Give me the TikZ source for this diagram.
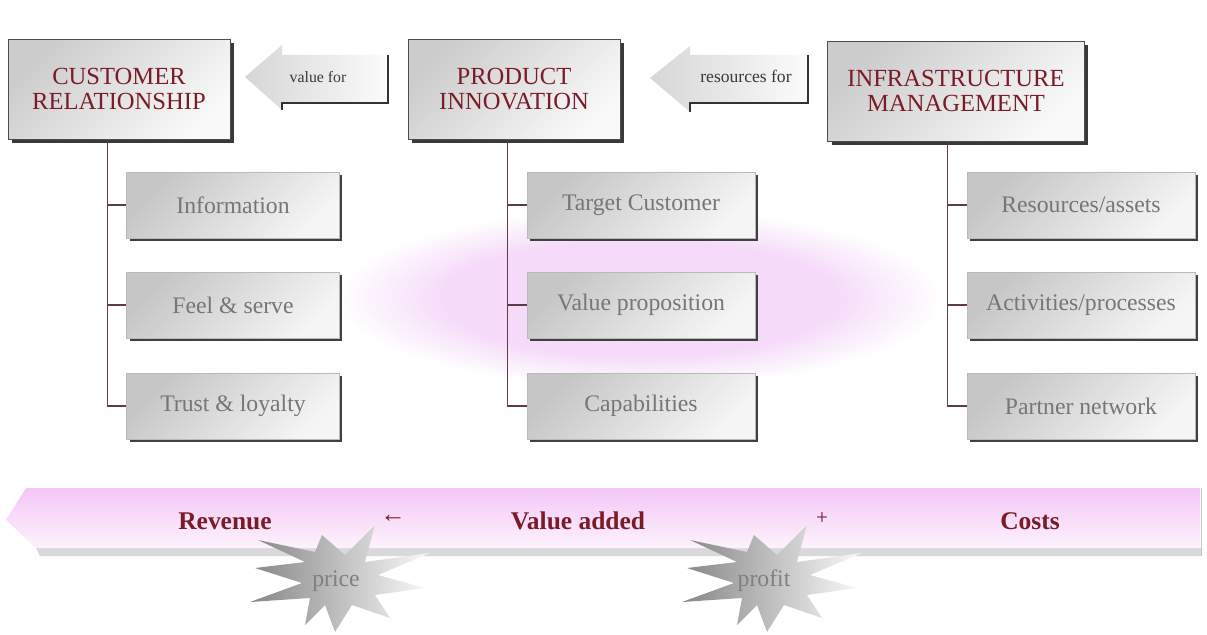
\documentclass[tikz,border=0pt]{standalone}
\usepackage{fontspec}
\setmainfont{Liberation Serif}
\usetikzlibrary{shadows}
\definecolor{headred}{RGB}{122,28,40}
\definecolor{treeline}{RGB}{95,60,65}
\definecolor{subtext}{RGB}{118,118,118}
\definecolor{bandpink}{RGB}{244,198,246}
\definecolor{ovalpink}{RGB}{245,218,249}
\pgfdeclareradialshading{ovalshade}{\pgfpoint{0bp}{0bp}}{color(0bp)=(ovalpink); color(16bp)=(ovalpink); color(25bp)=(white); color(50bp)=(white)}
% one jagged burst, drawn round (0,0)
\def\burst{(-85,-12) -- (-35,-18) -- (-82,-40) -- (-25,-28) -- (-18,-45) -- (5,-25) -- (35,-55) -- (25,-18) -- (90,-27) -- (38,-5) -- (85,8) -- (35,15) -- (50,38) -- (12,25) -- (-5,52) -- (-15,25) -- (-35,45) -- (-30,18) -- (-90,22) -- (-38,3) -- cycle}
\begin{document}
\begin{tikzpicture}[x=0.02cm,y=-0.02cm]
    \tikzstyle{head}=[draw=gray!60!black,top color=gray!40,bottom color=gray!5,shading angle=45,
      drop shadow={shadow xshift=0.8mm,shadow yshift=-0.8mm,fill=gray!45!black,opacity=1},
      align=center,text=headred,font=\fontsize{14}{14.5}\selectfont,minimum height=20mm,inner sep=0pt]
    \tikzstyle{item}=[draw=gray!55,top color=gray!45,bottom color=gray!8,shading angle=45,
      drop shadow={shadow xshift=0.6mm,shadow yshift=-0.6mm,fill=gray!50!black,opacity=1},
      text=subtext,font=\fontsize{13.5}{16}\selectfont,minimum height=13.2mm,inner sep=0pt]
    \tikzstyle{tree}=[treeline,semithick]
    \tikzstyle{flag}=[left color=gray!32,right color=gray!3]
    \tikzstyle{flagtext}=[text=gray!45!black,font=\fontsize{9}{10}\selectfont]
    \tikzstyle{band}=[text=headred,font=\bfseries\fontsize{14.5}{17}\selectfont]
    \tikzstyle{burst}=[left color=gray!95,right color=gray!4]
    \tikzstyle{bursttext}=[text=gray,font=\fontsize{13.5}{16}\selectfont]

      \useasboundingbox (0,0) rectangle (1207,635);
      \fill[white] (0,0) rectangle (1207,635);

      % pink oval behind the middle column
      \shade[shading=ovalshade] (640,298) ellipse (304 and 90);

      \node (CR) at (119,89) [head,minimum width=44.4mm] {CUSTOMER\\RELATIONSHIP};
      \node (PI) at (514,89) [head,minimum width=42.4mm] {PRODUCT\\INNOVATION};
      \node (IM) at (956,91) [head,minimum width=51.4mm] {INFRASTRUCTURE\\MANAGEMENT};

      \node (info)    at (233,205)  [item,minimum width=42.6mm] {Information};
      \node (feel)    at (233,305)  [item,minimum width=42.6mm] {Feel \& serve};
      \node (trust)   at (233,406)  [item,minimum width=42.6mm] {Trust \& loyalty};
      \node (target)  at (641,205)  [item,minimum width=45.6mm] {Target Customer};
      \node (value)   at (641,305)  [item,minimum width=45.6mm] {Value proposition};
      \node (capab)   at (641,406)  [item,minimum width=45.6mm] {Capabilities};
      \node (res)     at (1081,205) [item,minimum width=45.6mm] {Resources/assets};
      \node (act)     at (1081,305) [item,minimum width=45.6mm] {Activities/processes};
      \node (partner) at (1081,406) [item,minimum width=45.6mm] {Partner network};

      \foreach \h/\s in {CR/info,CR/feel,CR/trust,PI/target,PI/value,PI/capab,IM/res,IM/act,IM/partner}
        \draw[tree] (\s.west) -- ++(-19,0) coordinate (t) -- (t |- \h.south);

      % the two small arrows between the headings
      \shade[flag] (245,77) -- (282,45) -- (282,55) -- (388,55) -- (388,102) -- (282,102) -- (282,110) -- cycle;
      \draw[gray!40!black,line width=1pt] (388,55) -- (388,103) -- (282,103) -- (282,110);
      \node (vf) at (318,77) [flagtext] {value for};

      \shade[flag] (650,78) -- (690,46) -- (690,55) -- (808,55) -- (808,102) -- (690,102) -- (690,112) -- cycle;
      \draw[gray!40!black,line width=1pt] (808,55) -- (808,103) -- (690,103) -- (690,112);
      \node (rf) at (746,76) [flagtext,font=\fontsize{10}{11}\selectfont] {resources for};

      % value band
      \fill[gray!30] (36,548) -- (1202,548) -- (1202,556) -- (40,556) -- cycle;
      \shade[top color=bandpink,bottom color=bandpink!22!white] (6,520) -- (26,488) -- (1200,488) -- (1200,548) -- (36,548) -- cycle;
      \draw[gray!45] (1201,488) -- (1201,556);

      \node (rev)  at (225,521)  [band] {Revenue};
      \node (larr) at (393,519)  [band,font=\fontsize{14.5}{17}\selectfont] {←};
      \node (va)   at (578,521)  [band] {Value added};
      \node (plus) at (822,519)  [band,font=\fontsize{12}{14}\selectfont] {+};
      \node (cost) at (1030,521) [band] {Costs};

      \shade[burst,shift={(340,580)}] \burst;
      \node (price) at (336,581) [bursttext] {price};
      \shade[burst,shift={(772,580)}] \burst;
      \node (profit) at (764,581) [bursttext] {profit};
  \end{tikzpicture}
\end{document}
